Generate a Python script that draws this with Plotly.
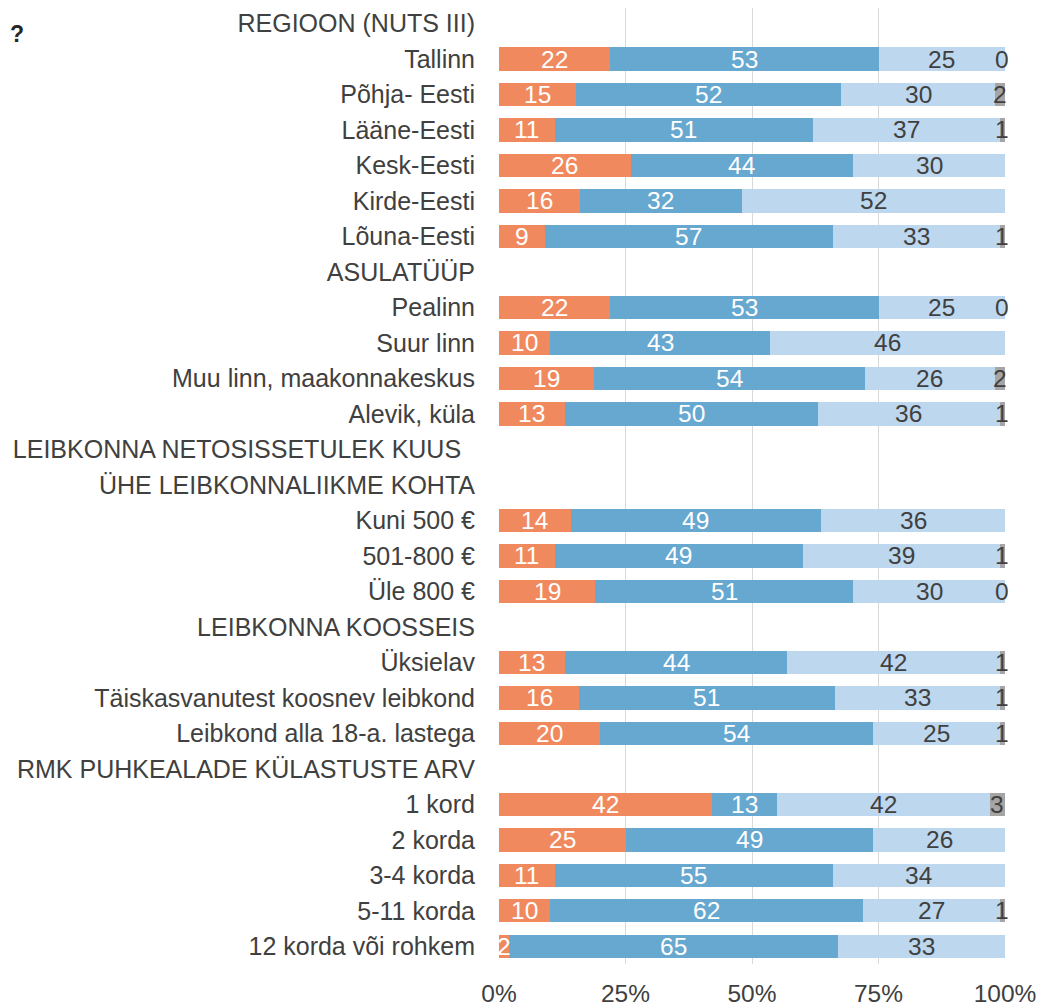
import plotly.graph_objects as go

categories = [
    "REGIOON (NUTS III)", "Tallinn", "Põhja- Eesti", "Lääne-Eesti", "Kesk-Eesti", "Kirde-Eesti", "Lõuna-Eesti",
    "ASULATÜÜP", "Pealinn", "Suur linn", "Muu linn, maakonnakeskus", "Alevik, küla",
    "LEIBKONNA NETOSISSETULEK KUUS\u00a0\u00a0", "ÜHE LEIBKONNALIIKME KOHTA", "Kuni 500 €", "501-800 €", "Üle 800 €",
    "LEIBKONNA KOOSSEIS", "Üksielav", "Täiskasvanutest koosnev leibkond", "Leibkond alla 18-a. lastega",
    "RMK PUHKEALADE KÜLASTUSTE ARV", "1 kord", "2 korda", "3-4 korda", "5-11 korda", "12 korda või rohkem",
]
s1 = [None, 22, 15, 11, 26, 16, 9, None, 22, 10, 19, 13, None, None, 14, 11, 19, None, 13, 16, 20, None, 42, 25, 11, 10, 2]
s2 = [None, 53, 52, 51, 44, 32, 57, None, 53, 43, 54, 50, None, None, 49, 49, 51, None, 44, 51, 54, None, 13, 49, 55, 62, 65]
s3 = [None, 25, 30, 37, 30, 52, 33, None, 25, 46, 26, 36, None, None, 36, 39, 30, None, 42, 33, 25, None, 42, 26, 34, 27, 33]
s4 = [None, 0, 2, 1, None, None, 1, None, 0, None, 2, 1, None, None, None, 1, 0, None, 1, 1, 1, None, 3, None, None, 1, None]
x_ticks = [0, 25, 50, 75, 100]
x_tick_labels = ["0%", "25%", "50%", "75%", "100%"]

series = [s1, s2, s3, s4]
colors = ["#F08A5E", "#66A8D0", "#BDD7EE", "#A5A5A5"]
label_colors = ["white", "white", "#404040", "#404040"]
FONT = "Liberation Sans, Arial, sans-serif"

ids = [f"r{i}" for i in range(len(categories))]

fig = go.Figure()
for s, c in zip(series, colors):
    fig.add_trace(go.Bar(
        y=ids, x=[v if v is not None else 0 for v in s], orientation="h",
        marker=dict(color=c, line=dict(width=0)), hoverinfo="skip",
    ))

annotations = []
for i, cid in enumerate(ids):
    vals = [s[i] for s in series]
    total = sum(v for v in vals if v is not None)
    if total == 0:
        continue
    cum = 0
    for k, v in enumerate(vals):
        if v is None:
            continue
        w = v / total * 100
        xc = cum + w / 2
        cum += w
        annotations.append(dict(
            x=min(xc, 99.5), y=cid, xref="x", yref="y", text=str(v), showarrow=False,
            font=dict(size=24.5, color=label_colors[k], family=FONT),
            xanchor="center", yanchor="middle",
        ))

W, H = 1041, 999
L, R, T, B = 491, 44, 0, 43
plot_h = H - T - B
plot_w = W - L - R

annotations.append(dict(
    x=-L / plot_w, y=1 - 26 / plot_h, xref="paper", yref="paper", text="<b>?</b>", showarrow=False,
    font=dict(size=23, color="#262626", family=FONT),
    xanchor="left", yanchor="middle",
))

n = len(categories)
fig.update_layout(
    barmode="stack", barnorm="percent", bargap=0.34,
    width=W, height=H,
    margin=dict(l=L, r=R, t=T, b=B, autoexpand=False),
    plot_bgcolor="white", paper_bgcolor="white",
    showlegend=False,
    font=dict(family=FONT, size=25, color="#404040"),
    annotations=annotations,
    xaxis=dict(
        range=[0, 100], tickvals=x_ticks, ticktext=x_tick_labels,
        showgrid=True, gridcolor="#D9D9D9", gridwidth=1, zeroline=False,
        showline=False, tickfont=dict(size=24.5, color="#404040"), ticks="",
        ticklabelstandoff=12,
    ),
    yaxis=dict(
        categoryorder="array", categoryarray=ids, tickvals=ids, ticktext=categories,
        range=[n - 0.5, -0.437], showgrid=False, zeroline=False, showline=False,
        tickfont=dict(size=25, color="#404040"), ticks="", ticklabelstandoff=23,
    ),
)

fig.write_html("out.html")
